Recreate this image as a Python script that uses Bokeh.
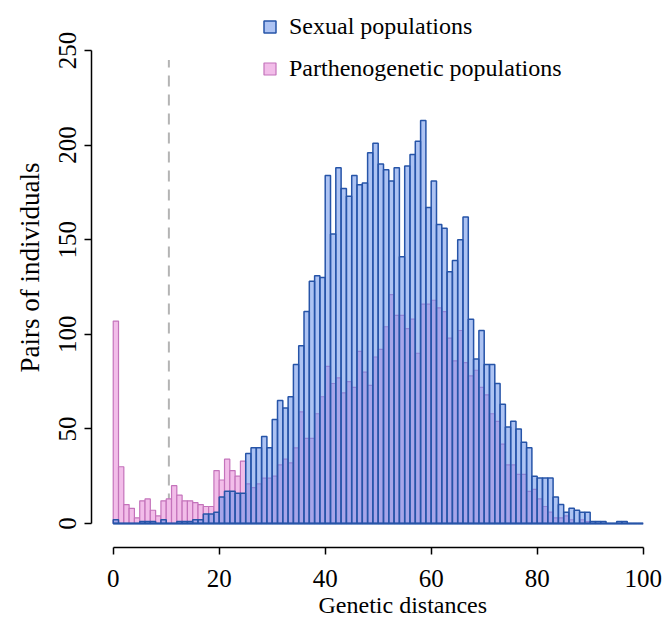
import numpy as np
from bokeh.plotting import figure
from bokeh.models import Range1d, FixedTicker, Legend, LegendItem, Title
from bokeh.embed import file_html
from bokeh.resources import INLINE

# ---- data (pairs of individuals per 1-unit genetic-distance bin, 0..100) ----
bin_edges = list(range(0, 101))

sexual_counts = [
    2, 0, 0, 0, 0, 1, 1, 1, 0, 2,
    0, 0, 1, 1, 1, 2, 2, 5, 5, 6,
    14, 17, 17, 16, 16, 37, 40, 40, 46, 40,
    55, 65, 61, 67, 84, 94, 112, 128, 131, 130,
    184, 153, 188, 177, 173, 184, 179, 180, 196, 201,
    190, 187, 181, 188, 141, 189, 195, 202, 213, 167,
    181, 158, 156, 133, 139, 150, 162, 108, 87, 102,
    84, 84, 74, 63, 51, 54, 50, 43, 40, 25,
    24, 24, 24, 14, 10, 6, 8, 7, 6, 6,
    1, 1, 1, 0, 0, 1, 1, 0, 0, 0,
]

parth_counts = [
    107, 30, 10, 8, 3, 12, 13, 7, 4, 12,
    13, 20, 15, 12, 12, 11, 10, 9, 9, 28,
    23, 34, 28, 25, 33, 21, 19, 21, 24, 24,
    25, 31, 34, 32, 40, 59, 45, 45, 58, 67,
    83, 74, 77, 69, 75, 72, 91, 80, 73, 88,
    92, 104, 121, 110, 110, 103, 108, 90, 116, 116,
    118, 114, 112, 98, 86, 102, 85, 78, 81, 72,
    68, 58, 54, 42, 31, 31, 26, 26, 17, 18,
    13, 9, 6, 3, 3, 4, 2, 0, 2, 1,
    0, 0, 0, 0, 0, 0, 0, 0, 0, 0,
]

threshold = 10.5
threshold_top = 245
x_ticks = [0, 20, 40, 60, 80, 100]
y_ticks = [0, 50, 100, 150, 200, 250]
series_names = ["Sexual populations", "Parthenogenetic populations"]
x_title = "Genetic distances"
y_title = "Pairs of individuals"

FONT = "Liberation Serif"

left = bin_edges[:-1]
right = bin_edges[1:]

p = figure(
    width=666, height=622,
    x_range=Range1d(-4.1, 104.4),
    y_range=Range1d(-12.68, 272.2),
    output_backend="svg", toolbar_location=None,
    min_border_left=91, min_border_right=0,
    min_border_top=8, min_border_bottom=75,
)
p.outline_line_color = None
p.grid.grid_line_color = None
p.background_fill_color = "white"
p.border_fill_color = "white"

# dashed threshold line (under bars)
p.segment(x0=[threshold], y0=[0], x1=[threshold], y1=[threshold_top],
          line_color="#b4b4b4", line_width=2, line_dash="11 8")

r_parth = p.quad(left=left, right=right, bottom=0, top=parth_counts,
                 fill_color="#f2bde9", line_color="#c473bb", line_width=1.2)
r_sex = p.quad(left=left, right=right, bottom=0, top=sexual_counts,
               fill_color="#6a92ea", fill_alpha=0.55,
               line_color="#2654a8", line_width=1.5)
p.line(x=[bin_edges[0], bin_edges[-1]], y=[0, 0], line_color="#2654a8", line_width=2)

# axes
for ax in (p.xaxis[0], p.yaxis[0]):
    ax.axis_line_color = "black"
    ax.axis_line_width = 1.5
    ax.major_tick_line_color = "black"
    ax.major_tick_line_width = 1.5
    ax.major_tick_out = 7
    ax.major_tick_in = 0
    ax.minor_tick_line_color = None
    ax.major_label_text_font = FONT
    ax.major_label_text_font_size = "25px"
    ax.major_label_text_color = "black"

p.xaxis.ticker = FixedTicker(ticks=x_ticks)
p.yaxis.ticker = FixedTicker(ticks=y_ticks)
p.xaxis.bounds = (x_ticks[0], x_ticks[-1])
p.yaxis.bounds = (y_ticks[0], y_ticks[-1])
p.yaxis.major_label_orientation = "vertical"
p.xaxis.major_label_standoff = 15
p.yaxis.major_label_standoff = 8

# axis titles (placed as side titles so they can be offset like the original)
p.add_layout(Title(text=x_title, align="left", offset=227, standoff=0,
                   text_font=FONT, text_font_size="24px",
                   text_font_style="normal", text_color="black"), "below")
p.add_layout(Title(text=y_title, align="left", offset=175, standoff=24,
                   text_font=FONT, text_font_size="27px",
                   text_font_style="normal", text_color="black"), "left")

legend = Legend(
    items=[LegendItem(label=series_names[0], renderers=[r_sex]),
           LegendItem(label=series_names[1], renderers=[r_parth])],
    location=(171, 464),
    border_line_color=None, background_fill_alpha=0,
    padding=0, margin=0, spacing=12,
    glyph_width=15, glyph_height=15, label_height=30,
    label_standoff=12,
    label_text_font=FONT, label_text_font_size="24px", label_text_color="black",
)
p.add_layout(legend)

open("out.html", "w").write(file_html(p, INLINE))
